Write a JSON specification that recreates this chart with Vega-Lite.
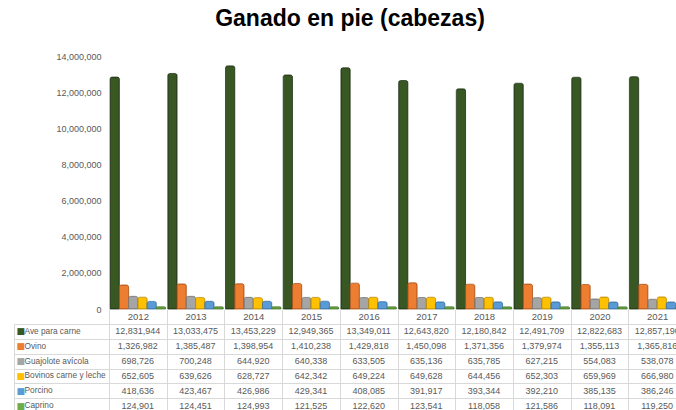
{
  "$schema": "https://vega.github.io/schema/vega-lite/v6.json",
  "padding": {"left": 13, "top": 8, "right": 0, "bottom": 0},
  "title": {"text": "Ganado en pie (cabezas)", "fontSize": 23, "font": "Liberation Sans", "fontWeight": "bold", "color": "#000000", "anchor": "middle", "offset": 21},
  "datasets": {
    "d": [
      {"year": "2012", "series": "Ave para carne", "value": 12831944},
      {"year": "2013", "series": "Ave para carne", "value": 13033475},
      {"year": "2014", "series": "Ave para carne", "value": 13453229},
      {"year": "2015", "series": "Ave para carne", "value": 12949365},
      {"year": "2016", "series": "Ave para carne", "value": 13349011},
      {"year": "2017", "series": "Ave para carne", "value": 12643820},
      {"year": "2018", "series": "Ave para carne", "value": 12180842},
      {"year": "2019", "series": "Ave para carne", "value": 12491709},
      {"year": "2020", "series": "Ave para carne", "value": 12822683},
      {"year": "2021", "series": "Ave para carne", "value": 12857190},
      {"year": "2012", "series": "Ovino", "value": 1326982},
      {"year": "2013", "series": "Ovino", "value": 1385487},
      {"year": "2014", "series": "Ovino", "value": 1398954},
      {"year": "2015", "series": "Ovino", "value": 1410238},
      {"year": "2016", "series": "Ovino", "value": 1429818},
      {"year": "2017", "series": "Ovino", "value": 1450098},
      {"year": "2018", "series": "Ovino", "value": 1371356},
      {"year": "2019", "series": "Ovino", "value": 1379974},
      {"year": "2020", "series": "Ovino", "value": 1355113},
      {"year": "2021", "series": "Ovino", "value": 1365816},
      {"year": "2012", "series": "Guajolote avícola", "value": 698726},
      {"year": "2013", "series": "Guajolote avícola", "value": 700248},
      {"year": "2014", "series": "Guajolote avícola", "value": 644920},
      {"year": "2015", "series": "Guajolote avícola", "value": 640338},
      {"year": "2016", "series": "Guajolote avícola", "value": 633505},
      {"year": "2017", "series": "Guajolote avícola", "value": 635136},
      {"year": "2018", "series": "Guajolote avícola", "value": 635785},
      {"year": "2019", "series": "Guajolote avícola", "value": 627215},
      {"year": "2020", "series": "Guajolote avícola", "value": 554083},
      {"year": "2021", "series": "Guajolote avícola", "value": 538078},
      {"year": "2012", "series": "Bovinos carne y leche", "value": 652605},
      {"year": "2013", "series": "Bovinos carne y leche", "value": 639626},
      {"year": "2014", "series": "Bovinos carne y leche", "value": 628727},
      {"year": "2015", "series": "Bovinos carne y leche", "value": 642342},
      {"year": "2016", "series": "Bovinos carne y leche", "value": 649224},
      {"year": "2017", "series": "Bovinos carne y leche", "value": 649628},
      {"year": "2018", "series": "Bovinos carne y leche", "value": 644456},
      {"year": "2019", "series": "Bovinos carne y leche", "value": 652303},
      {"year": "2020", "series": "Bovinos carne y leche", "value": 659969},
      {"year": "2021", "series": "Bovinos carne y leche", "value": 666980},
      {"year": "2012", "series": "Porcino", "value": 418636},
      {"year": "2013", "series": "Porcino", "value": 423467},
      {"year": "2014", "series": "Porcino", "value": 426986},
      {"year": "2015", "series": "Porcino", "value": 429341},
      {"year": "2016", "series": "Porcino", "value": 408085},
      {"year": "2017", "series": "Porcino", "value": 391917},
      {"year": "2018", "series": "Porcino", "value": 393344},
      {"year": "2019", "series": "Porcino", "value": 392210},
      {"year": "2020", "series": "Porcino", "value": 385135},
      {"year": "2021", "series": "Porcino", "value": 386246},
      {"year": "2012", "series": "Caprino", "value": 124901},
      {"year": "2013", "series": "Caprino", "value": 124451},
      {"year": "2014", "series": "Caprino", "value": 124993},
      {"year": "2015", "series": "Caprino", "value": 121525},
      {"year": "2016", "series": "Caprino", "value": 122620},
      {"year": "2017", "series": "Caprino", "value": 123541},
      {"year": "2018", "series": "Caprino", "value": 118058},
      {"year": "2019", "series": "Caprino", "value": 121586},
      {"year": "2020", "series": "Caprino", "value": 118091},
      {"year": "2021", "series": "Caprino", "value": 119250}
    ]
  },
  "bounds": "flush",
  "spacing": 15,
  "vconcat": [
    {
      "width": 577,
      "height": 253,
      "data": {"name": "d"},
      "mark": {"type": "bar", "strokeWidth": 0.8, "cornerRadiusTopLeft": 2, "cornerRadiusTopRight": 2},
      "encoding": {
        "x": {"field": "year", "type": "nominal", "scale": {"paddingInner": 0, "paddingOuter": 0}, "axis": null},
        "xOffset": {"field": "series", "type": "nominal", "sort": ["Ave para carne", "Ovino", "Guajolote avícola", "Bovinos carne y leche", "Porcino", "Caprino"], "scale": {"paddingInner": 0, "paddingOuter": 0.12}},
        "y": {"field": "value", "type": "quantitative", "scale": {"domain": [0, 14000000], "nice": false},
          "axis": {"title": null, "values": [0, 2000000, 4000000, 6000000, 8000000, 10000000, 12000000, 14000000], "format": ",d", "ticks": false, "domain": false, "grid": false, "labelPadding": 8, "labelColor": "#595959", "labelFontSize": 9, "labelFont": "Liberation Sans"}},
        "color": {"field": "series", "type": "nominal", "legend": null,
          "scale": {"domain": ["Ave para carne", "Ovino", "Guajolote avícola", "Bovinos carne y leche", "Porcino", "Caprino"], "range": ["#385723", "#ED7D31", "#A5A5A5", "#FFC000", "#5B9BD5", "#70AD47"]}},
        "stroke": {"field": "series", "type": "nominal", "legend": null,
          "scale": {"domain": ["Ave para carne", "Ovino", "Guajolote avícola", "Bovinos carne y leche", "Porcino", "Caprino"], "range": ["#22361a", "#b35518", "#777777", "#c08f00", "#3a74aa", "#4c7d2e"]}}
      }
    },
    {
      "width": 577,
      "height": 89,
      "data": {"name": "d"},
      "resolve": {"axis": {"x": "independent", "y": "independent"}},
      "layer": [
        {
          "mark": {"type": "text", "fontSize": 9, "color": "#595959", "font": "Liberation Sans"},
          "encoding": {
            "x": {"field": "year", "type": "nominal", "scale": {"paddingInner": 0, "paddingOuter": 0},
              "axis": {"orient": "top", "title": null, "ticks": false, "domain": false, "grid": true, "tickBand": "extent", "gridColor": "#d9d9d9", "labelPadding": 8, "labelBaseline": "middle", "labelAngle": 0, "labelColor": "#595959", "labelFontSize": 9.5, "labelFont": "Liberation Sans"}},
            "y": {"field": "series", "type": "nominal", "sort": ["Ave para carne", "Ovino", "Guajolote avícola", "Bovinos carne y leche", "Porcino", "Caprino"], "scale": {"paddingInner": 0, "paddingOuter": 0},
              "axis": {"orient": "left", "title": null, "ticks": false, "domain": false, "grid": true, "tickBand": "extent", "gridColor": "#d9d9d9", "labelAlign": "left", "labelPadding": 85, "labelLimit": 0, "labelColor": "#595959", "labelFontSize": 8.3, "labelFont": "Liberation Sans"}},
            "text": {"field": "value", "type": "quantitative", "format": ",d"}
          }
        },
        {
          "mark": {"type": "text", "opacity": 0},
          "encoding": {
            "x": {"field": "year", "type": "nominal",
              "axis": {"orient": "top", "title": null, "labels": false, "ticks": true, "tickSize": 15, "tickBand": "extent", "tickColor": "#d9d9d9", "domain": false, "grid": false}},
            "y": {"field": "series", "type": "nominal", "sort": ["Ave para carne", "Ovino", "Guajolote avícola", "Bovinos carne y leche", "Porcino", "Caprino"],
              "axis": {"orient": "left", "title": null, "ticks": false, "domain": false, "grid": false, "labelExpr": "'■'", "labelAlign": "left", "labelPadding": 93, "labelFontSize": 9, "labelFont": "DejaVu Sans",
                "labelColor": {"condition": [
                  {"test": "datum.value === 'Ave para carne'", "value": "#385723"},
                  {"test": "datum.value === 'Ovino'", "value": "#ED7D31"},
                  {"test": "datum.value === 'Guajolote avícola'", "value": "#A5A5A5"},
                  {"test": "datum.value === 'Bovinos carne y leche'", "value": "#FFC000"},
                  {"test": "datum.value === 'Porcino'", "value": "#5B9BD5"}
                ], "value": "#70AD47"}}},
            "text": {"field": "value", "type": "quantitative"}
          }
        },
        {
          "mark": {"type": "text", "opacity": 0},
          "encoding": {
            "x": {"field": "year", "type": "nominal", "axis": null},
            "y": {"field": "series", "type": "nominal", "sort": ["Ave para carne", "Ovino", "Guajolote avícola", "Bovinos carne y leche", "Porcino", "Caprino"],
              "axis": {"orient": "left", "title": null, "offset": 95, "domain": true, "domainColor": "#d9d9d9", "ticks": true, "tickSize": -95, "tickBand": "extent", "tickColor": "#d9d9d9", "labels": false, "grid": false}},
            "text": {"field": "value", "type": "quantitative"}
          }
        }
      ]
    }
  ],
  "config": {"view": {"stroke": null}, "font": "Liberation Sans"}
}
